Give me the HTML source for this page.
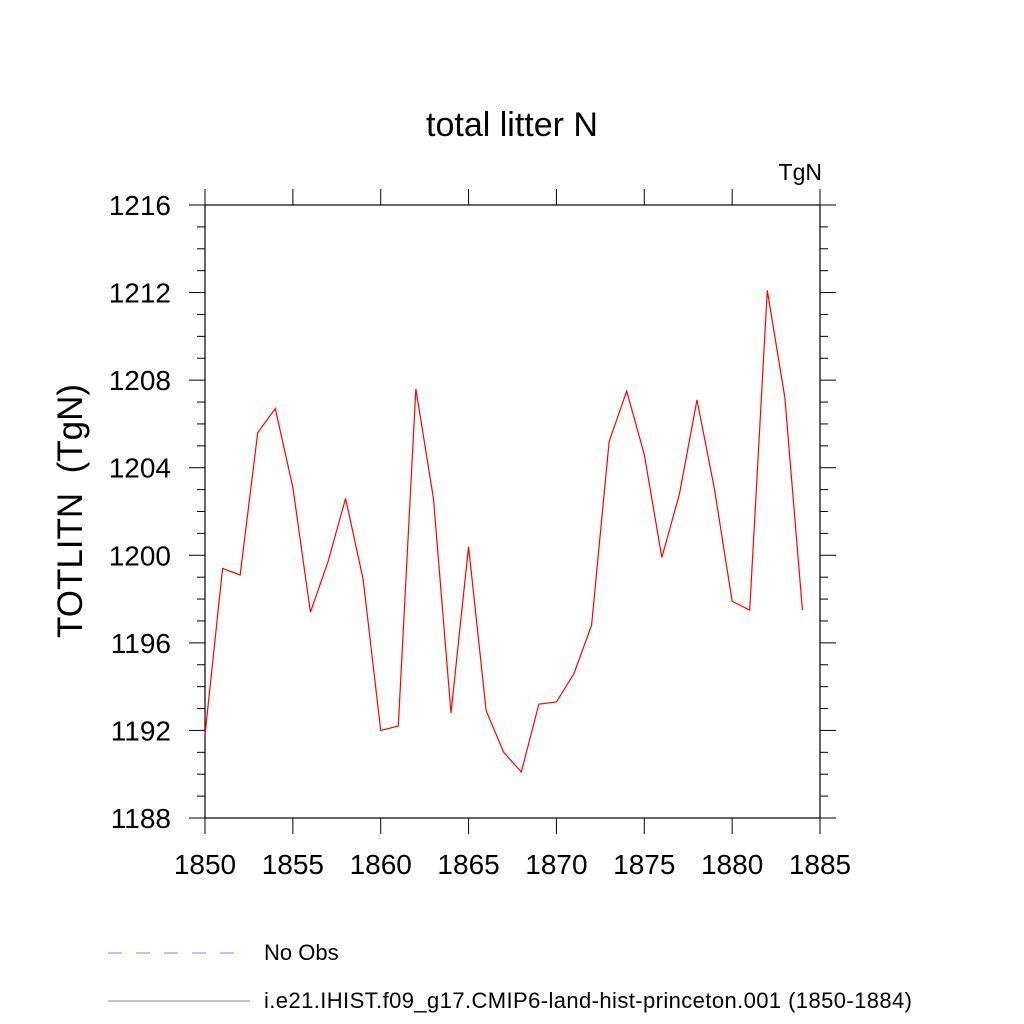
<!DOCTYPE html>
<html><head><meta charset="utf-8"><style>body{margin:0;background:#fff}svg{display:block}text{font-family:"Liberation Sans",sans-serif}</style></head>
<body>
<svg id="chart" width="1024" height="1024">
<text x="512" y="136" font-size="34" text-anchor="middle">total litter N</text>
<text x="822" y="180" font-size="23" text-anchor="end">TgN</text>
<text transform="translate(82,511) rotate(-90)" font-size="35" text-anchor="middle" xml:space="preserve" style="white-space:pre">TOTLITN  (TgN)</text>
<g id="axes"></g>
<polyline id="series" fill="none" stroke="#ff0000" stroke-width="1.2"/>
<line x1="108" y1="953" x2="246" y2="953" stroke="#8080ff" stroke-width="1" stroke-dasharray="14,14"/>
<text x="264" y="960" font-size="22">No Obs</text>
<line x1="108" y1="1001" x2="250" y2="1001" stroke="#888" stroke-width="1"/>
<text x="264" y="1008" font-size="22" textLength="648">i.e21.IHIST.f09_g17.CMIP6-land-hist-princeton.001 (1850-1884)</text>
</svg>
<script>
const years=[1850,1851,1852,1853,1854,1855,1856,1857,1858,1859,1860,1861,1862,1863,1864,1865,1866,1867,1868,1869,1870,1871,1872,1873,1874,1875,1876,1877,1878,1879,1880,1881,1882,1883,1884];
const values=[1191.8,1199.4,1199.1,1205.6,1206.7,1203.1,1197.4,1199.7,1202.6,1198.9,1192.0,1192.2,1207.6,1202.6,1192.8,1200.4,1192.9,1191.0,1190.1,1193.2,1193.3,1194.6,1196.8,1205.2,1207.5,1204.6,1199.9,1202.8,1207.1,1203.0,1197.9,1197.5,1212.1,1207.2,1197.5];
const xTicks=[1850,1855,1860,1865,1870,1875,1880,1885];
const yTicks=[1188,1192,1196,1200,1204,1208,1212,1216];
const X0=205,X1=820,Y0=818,Y1=205;
const xs=v=>X0+(v-1850)/(1885-1850)*(X1-X0);
const ys=v=>Y0-(v-1188)/(1216-1188)*(Y0-Y1);
const ns="http://www.w3.org/2000/svg";
const g=document.getElementById('axes');
function ln(x1,y1,x2,y2,name,w){const l=document.createElementNS(ns,'line');l.setAttribute('x1',x1);l.setAttribute('y1',y1);l.setAttribute('x2',x2);l.setAttribute('y2',y2);l.setAttribute('stroke','#000');l.setAttribute('stroke-width',w||1);


g.appendChild(l);}
const fr=document.createElementNS(ns,'rect');fr.setAttribute('x',X0);fr.setAttribute('y',Y1);fr.setAttribute('width',X1-X0);fr.setAttribute('height',Y0-Y1);fr.setAttribute('fill','none');fr.setAttribute('stroke','#000');fr.setAttribute('stroke-width',1.2);


g.appendChild(fr);
xTicks.forEach(t=>{const x=xs(t);ln(x,Y0,x,Y0+16,'x-tick');ln(x,Y1,x,Y1-16,'x-tick-top');
const tx=document.createElementNS(ns,'text');tx.setAttribute('x',x);tx.setAttribute('y',Y0+56);tx.setAttribute('font-size',28);tx.setAttribute('text-anchor','middle');tx.textContent=t;


g.appendChild(tx);});
for(let v=1188;v<=1216;v++){const y=ys(v);const maj=(v%4===0);const L=maj?16:8;ln(X0-L,y,X0,y,maj?'y-tick':'y-minor-tick');ln(X1,y,X1+L,y,maj?'y-tick-right':'y-minor-tick-right');}
yTicks.forEach(t=>{const tx=document.createElementNS(ns,'text');tx.setAttribute('x',X0-34);tx.setAttribute('y',ys(t)+10);tx.setAttribute('font-size',28);tx.setAttribute('text-anchor','end');tx.textContent=t;


g.appendChild(tx);});
document.getElementById('series').setAttribute('points',years.map((y,i)=>xs(y)+','+ys(values[i])).join(' '));
</script>
</body></html>
